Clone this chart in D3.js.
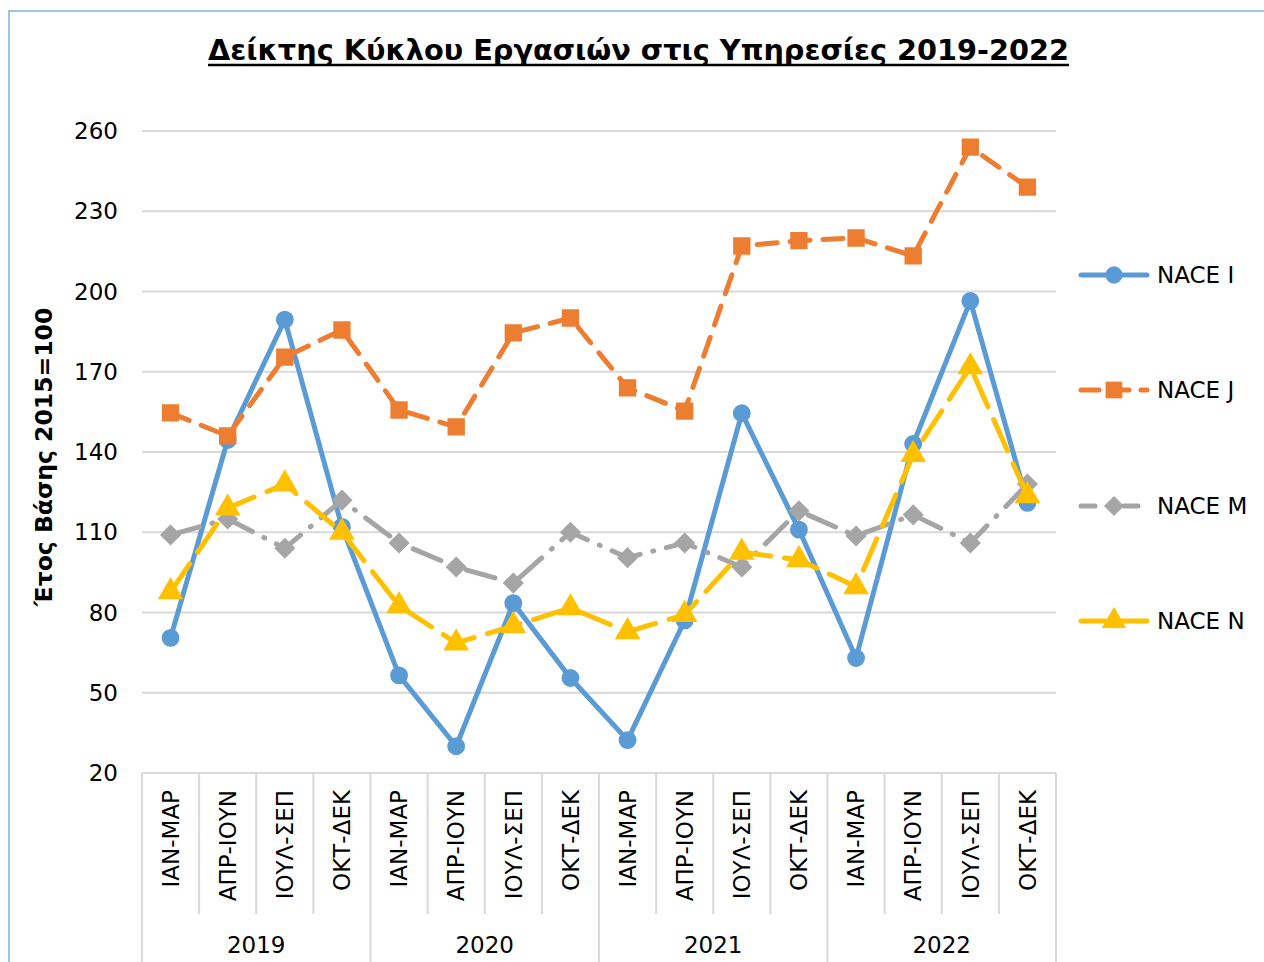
<!DOCTYPE html>
<html>
<head>
<meta charset="utf-8">
<script src="https://cdn.jsdelivr.net/npm/d3@7"></script>
<style>
  body { margin: 0; background: #fff; }
  text { font-family: "DejaVu Sans", Verdana, sans-serif; fill: #000; }
</style>
</head>
<body>
<div id="chart"></div>
<script>
// data
const years = ["2019", "2020", "2021", "2022"];
const quarters = ["ΙΑΝ-ΜΑΡ", "ΑΠΡ-ΙΟΥΝ", "ΙΟΥΛ-ΣΕΠ", "ΟΚΤ-ΔΕΚ"];
const yTicks = [20, 50, 80, 110, 140, 170, 200, 230, 260];

const naceI = [70.5, 144.5, 189.5, 112, 56.5, 30, 83.5, 55.5, 32.3, 77, 154.5, 111, 63, 143, 196.5, 121];
const naceJ = [154.6, 146, 175.5, 185.6, 155.7, 149.4, 184.5, 190.1, 164, 155.3, 217, 219, 220, 213.3, 254, 239];
const naceM = [109, 115, 104, 122, 106, 97, 91, 110, 100.5, 106, 97, 118, 108.6, 116.5, 106, 128];
const naceN = [87.7, 119, 128, 110, 82.5, 68.6, 75, 81.7, 72.8, 79.2, 102.5, 99.7, 89.6, 139, 171.8, 123.6];

const series = [
    { name: "NACE I", values: naceI, color: "#5b9bd5", dash: null, marker: "circle" },
    { name: "NACE J", values: naceJ, color: "#ed7d31", dash: "20,13", marker: "square" },
    { name: "NACE M", values: naceM, color: "#a5a5a5", dash: "30,13,1,13", marker: "diamond" },
    { name: "NACE N", values: naceN, color: "#ffc000", dash: "34,14", marker: "triangle" }
];

const W = 1264, H = 962;
const margin = { top: 131, right: 208, bottom: 189, left: 142 };
const width = W - margin.left - margin.right;
const height = H - margin.top - margin.bottom;

const svg = d3.select("#chart")
    .append("svg")
    .attr("width", W)
    .attr("height", H);

// outer frame
svg.append("rect")
    .attr("x", 9).attr("y", 11)
    .attr("width", W).attr("height", H)
    .attr("fill", "none")
    .attr("stroke", "#9dc3e6")
    .attr("stroke-width", 2);

// title (underlined)
svg.append("text")
    .attr("x", 208).attr("y", 60)
    .attr("font-weight", "bold")
    .style("font-size", "28px")
    .attr("textLength", 861)
    .attr("lengthAdjust", "spacingAndGlyphs")
    .text("Δείκτης Κύκλου Εργασιών στις Υπηρεσίες 2019-2022");
svg.append("line")
    .attr("x1", 208).attr("x2", 1069)
    .attr("y1", 65).attr("y2", 65)
    .attr("stroke", "#000").attr("stroke-width", 2.5);

const g = svg.append("g")
    .attr("transform", `translate(${margin.left},${margin.top})`);

// categories
const cats = [];
years.forEach(y => quarters.forEach(q => cats.push({ year: y, q: q, key: y + " " + q })));

const x = d3.scaleBand()
    .domain(cats.map(d => d.key))
    .range([0, width]);

const y = d3.scaleLinear()
    .domain([20, 260])
    .range([height, 0]);

// gridlines
g.append("g")
    .selectAll("line")
    .data(yTicks)
    .join("line")
    .attr("x1", 0).attr("x2", width)
    .attr("y1", d => y(d)).attr("y2", d => y(d))
    .attr("stroke", "#d9d9d9")
    .attr("stroke-width", 2);

// y tick labels
g.append("g")
    .selectAll("text")
    .data(yTicks)
    .join("text")
    .attr("x", -24)
    .attr("y", d => y(d))
    .attr("dy", "0.35em")
    .attr("text-anchor", "end")
    .style("font-size", "23px")
    .text(d => d);

// y axis title
svg.append("text")
    .attr("transform", `translate(52,${margin.top + y(140) + 5}) rotate(-90)`)
    .attr("text-anchor", "middle")
    .attr("font-weight", "bold")
    .style("font-size", "23.5px")
    .text("Έτος Βάσης 2015=100");

// category axis: separators
const sep = g.append("g");
cats.forEach((c, i) => {
    const isYear = i % 4 === 0;
    sep.append("line")
        .attr("x1", x(c.key)).attr("x2", x(c.key))
        .attr("y1", height).attr("y2", isYear ? H - margin.top : height + 141)
        .attr("stroke", "#d9d9d9").attr("stroke-width", 2);
});
sep.append("line")
    .attr("x1", width).attr("x2", width)
    .attr("y1", height).attr("y2", H - margin.top)
    .attr("stroke", "#d9d9d9").attr("stroke-width", 2);

// quarter labels
g.append("g")
    .selectAll("text")
    .data(cats)
    .join("text")
    .attr("transform", d => `translate(${x(d.key) + x.bandwidth() / 2},${height + 17}) rotate(-90)`)
    .attr("text-anchor", "end")
    .attr("dy", "0.36em")
    .style("font-size", "23px")
    .text(d => d.q);

// year labels
g.append("g")
    .selectAll("text")
    .data(years)
    .join("text")
    .attr("x", d => x(d + " " + quarters[0]) + x.bandwidth() * 2)
    .attr("y", height + 180)
    .attr("text-anchor", "middle")
    .style("font-size", "23px")
    .text(d => d);

// marker shapes
const symbolFor = {
    circle: d3.symbol().type(d3.symbolCircle).size(210),
    square: d3.symbol().type(d3.symbolSquare).size(250),
    diamond: d3.symbol().type(d3.symbolDiamond2).size(230),
    triangle: d3.symbol().type(d3.symbolTriangle).size(230)
};

const line = d3.line()
    .x((d, i) => x(cats[i].key) + x.bandwidth() / 2)
    .y(d => y(d));

series.forEach(s => {
    g.append("path")
        .datum(s.values)
        .attr("fill", "none")
        .attr("stroke", s.color)
        .attr("stroke-width", 5)
        .attr("stroke-linecap", "round")
        .attr("stroke-linejoin", "round")
        .attr("stroke-dasharray", s.dash)
        .attr("d", line);

    g.append("g")
        .selectAll("path")
        .data(s.values)
        .join("path")
        .attr("transform", (d, i) => `translate(${x(cats[i].key) + x.bandwidth() / 2},${y(d)})`)
        .attr("d", symbolFor[s.marker])
        .attr("fill", s.color)
        .attr("stroke", s.color)
        .attr("stroke-width", 1.5);
});

// legend
const legendY = [275, 390, 506, 621];
const leg = svg.append("g");
series.forEach((s, i) => {
    const ly = legendY[i];
    const lg = leg.append("g");
    lg.append("line")
        .attr("x1", 1081).attr("x2", 1147)
        .attr("y1", ly).attr("y2", ly)
        .attr("stroke", s.color)
        .attr("stroke-width", 5)
        .attr("stroke-linecap", "round")
        .attr("stroke-dasharray", s.marker === "square" ? "18,12" : s.marker === "diamond" ? "14,14,1,14" : null);
    lg.append("path")
        .attr("transform", `translate(1114,${ly})`)
        .attr("d", symbolFor[s.marker])
        .attr("fill", s.color)
        .attr("stroke", s.color);
    lg.append("text")
        .attr("x", 1157).attr("y", ly)
        .attr("dy", "0.36em")
        .style("font-size", "23px")
        .text(s.name);
});
</script>
</body>
</html>
